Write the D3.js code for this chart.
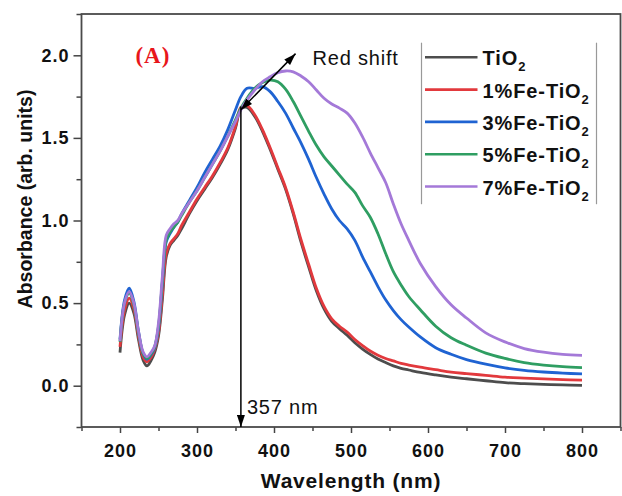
<!DOCTYPE html>
<html>
<head>
<meta charset="utf-8">
<script src="https://cdn.jsdelivr.net/npm/d3@7"></script>
<style>
  body { margin: 0; background: #fff; }
  svg { display: block; font-family: "Liberation Sans", Arial, sans-serif; }
</style>
</head>
<body>
<div id="chart"></div>
<script>
// UV-vis absorbance spectra, shared wavelength grid (nm)
const wavelength = [200, 206, 212, 218, 224, 230, 235,
  240, 245, 250, 255, 260, 265, 270, 275, 280,
  290, 300, 310, 320, 330, 340, 350, 357,
  365, 375, 385, 395, 405, 415, 425, 435, 445, 455, 465, 475, 485, 495, 505, 515, 525, 535, 545, 555, 565, 575,
  590, 610, 630, 650, 675, 700, 725, 750, 775, 800];

const tio2 = [0.20, 0.43, 0.50, 0.44, 0.28, 0.155, 0.12,
  0.15, 0.20, 0.30, 0.52, 0.78, 0.85, 0.88, 0.91, 0.95,
  1.04, 1.12, 1.19, 1.26, 1.34, 1.43, 1.56, 1.675,
  1.685, 1.63, 1.54, 1.43, 1.31, 1.19, 1.04, 0.87, 0.72, 0.575, 0.465, 0.39, 0.345, 0.305, 0.26, 0.222, 0.19, 0.162, 0.14, 0.12, 0.105, 0.095,
  0.08, 0.065, 0.052, 0.042, 0.03, 0.018, 0.012, 0.008, 0.005, 0.002];

const fe1 = [0.235, 0.46, 0.53, 0.465, 0.30, 0.175, 0.145,
  0.17, 0.22, 0.32, 0.55, 0.80, 0.86, 0.89, 0.92, 0.97,
  1.05, 1.13, 1.20, 1.27, 1.35, 1.44, 1.57, 1.685,
  1.695, 1.64, 1.55, 1.44, 1.32, 1.20, 1.05, 0.885, 0.735, 0.59, 0.48, 0.405, 0.36, 0.325, 0.28, 0.243, 0.21, 0.185, 0.165, 0.15, 0.135, 0.125,
  0.112, 0.097, 0.082, 0.073, 0.063, 0.052, 0.046, 0.041, 0.037, 0.034];

const fe3 = [0.28, 0.52, 0.59, 0.51, 0.33, 0.195, 0.16,
  0.185, 0.23, 0.35, 0.62, 0.87, 0.92, 0.96, 0.99, 1.04,
  1.12, 1.20, 1.29, 1.37, 1.45, 1.55, 1.67, 1.75,
  1.80, 1.80, 1.81, 1.78, 1.72, 1.65, 1.56, 1.47, 1.37, 1.26, 1.16, 1.07, 1.00, 0.95, 0.88, 0.78, 0.69, 0.60, 0.52, 0.455, 0.40, 0.355,
  0.295, 0.23, 0.19, 0.158, 0.13, 0.108, 0.093, 0.083, 0.076, 0.071];

const fe5 = [0.265, 0.50, 0.56, 0.49, 0.32, 0.195, 0.165,
  0.19, 0.235, 0.36, 0.63, 0.88, 0.93, 0.96, 0.99, 1.03,
  1.11, 1.18, 1.26, 1.34, 1.42, 1.51, 1.61, 1.68,
  1.74, 1.80, 1.835, 1.85, 1.84, 1.795, 1.72, 1.63, 1.54, 1.455, 1.385, 1.33, 1.275, 1.22, 1.17, 1.09, 1.02, 0.92, 0.80, 0.69, 0.61, 0.54,
  0.46, 0.36, 0.29, 0.245, 0.197, 0.165, 0.14, 0.125, 0.115, 0.109];

const fe7 = [0.27, 0.505, 0.57, 0.50, 0.33, 0.205, 0.175,
  0.20, 0.24, 0.38, 0.66, 0.91, 0.95, 0.98, 1.00, 1.04,
  1.11, 1.18, 1.26, 1.34, 1.42, 1.51, 1.60, 1.67,
  1.73, 1.79, 1.84, 1.87, 1.895, 1.905, 1.90, 1.875, 1.84, 1.79, 1.74, 1.705, 1.68, 1.65, 1.59, 1.506, 1.41, 1.32, 1.23, 1.10, 0.98, 0.88,
  0.74, 0.60, 0.49, 0.41, 0.32, 0.265, 0.225, 0.203, 0.19, 0.184];

const seriesNames = ["TiO2", "1%Fe-TiO2", "3%Fe-TiO2", "5%Fe-TiO2", "7%Fe-TiO2"];
const seriesColors = ["#4d4d4d", "#e2393d", "#1f63d2", "#2f9e62", "#a479d8"];
const seriesValues = [tio2, fe1, fe3, fe5, fe7];

const xTicks = [200, 300, 400, 500, 600, 700, 800];
const xMinorTicks = [150, 250, 350, 450, 550, 650, 750, 850];
const yTicks = [0, 0.5, 1.0, 1.5, 2.0];
const yMinorTicks = [-0.25, 0.25, 0.75, 1.25, 1.75, 2.25];

// annotation anchors (data units)
const peakWave = 357, peakAbs = 1.69;
const shiftFrom = [357, 1.67], shiftTo = [428, 2.01];

const width = 622, height = 496;
const plot = { left: 81.5, right: 620.5, top: 14, bottom: 427 };

const x = d3.scaleLinear().domain([150, 850]).range([plot.left, plot.right]);
const y = d3.scaleLinear().domain([-0.25, 2.25]).range([plot.bottom, plot.top]);

const svg = d3.select("#chart").append("svg")
  .attr("width", width)
  .attr("height", height);

const defs = svg.append("defs");
defs.append("marker")
  .attr("id", "head")
  .attr("markerUnits", "userSpaceOnUse")
  .attr("viewBox", "0 0 12 8")
  .attr("markerWidth", 12)
  .attr("markerHeight", 8)
  .attr("refX", 12)
  .attr("refY", 4)
  .attr("orient", "auto-start-reverse")
  .append("path")
  .attr("d", "M0,0L12,4L0,8Z")
  .attr("fill", "#000");

// axes: major + minor ticks, outward
const tickFont = g => g.selectAll("text")
  .attr("font-size", 18)
  .attr("font-weight", "bold")
  .attr("letter-spacing", 1)
  .attr("fill", "#111");

const xAxisG = svg.append("g").attr("transform", `translate(0,${plot.bottom})`);
xAxisG.append("g")
  .call(d3.axisBottom(x).tickValues(xMinorTicks).tickSize(4).tickFormat(""))
  .call(g => g.select(".domain").remove());
xAxisG.append("g")
  .call(d3.axisBottom(x).tickValues(xTicks).tickSize(6).tickPadding(11).tickFormat(d3.format("d")))
  .call(g => g.select(".domain").remove())
  .call(tickFont);

const yAxisG = svg.append("g").attr("transform", `translate(${plot.left},0)`);
yAxisG.append("g")
  .call(d3.axisLeft(y).tickValues(yMinorTicks).tickSize(5).tickFormat(""))
  .call(g => g.select(".domain").remove());
yAxisG.append("g")
  .call(d3.axisLeft(y).tickValues(yTicks).tickSize(8).tickPadding(4).tickFormat(d3.format(".1f")))
  .call(g => g.select(".domain").remove())
  .call(tickFont);

svg.selectAll(".tick line").attr("stroke", "#444").attr("stroke-width", 1.5);

// plot frame
svg.append("rect")
  .attr("x", plot.left)
  .attr("y", plot.top)
  .attr("width", plot.right - plot.left)
  .attr("height", plot.bottom - plot.top)
  .attr("fill", "none")
  .attr("stroke", "#4a4a4a")
  .attr("stroke-width", 1.8);

// spectra
const line = d3.line()
  .x((d, i) => x(wavelength[i]))
  .y(d => y(d))
  .curve(d3.curveCatmullRom.alpha(0.5));

svg.append("g")
  .selectAll("path")
  .data(seriesValues)
  .join("path")
  .attr("d", d => line(d))
  .attr("fill", "none")
  .attr("stroke", (d, i) => seriesColors[i])
  .attr("stroke-width", 2.8)
  .attr("stroke-linejoin", "round");

// peak marker and red-shift arrow
svg.append("line")
  .attr("x1", x(peakWave)).attr("y1", y(peakAbs))
  .attr("x2", x(peakWave)).attr("y2", y(-0.25))
  .attr("stroke", "#000").attr("stroke-width", 1.5)
  .attr("marker-end", "url(#head)");

svg.append("line")
  .attr("x1", x(shiftFrom[0])).attr("y1", y(shiftFrom[1]))
  .attr("x2", x(shiftTo[0])).attr("y2", y(shiftTo[1]))
  .attr("stroke", "#000").attr("stroke-width", 1.5)
  .attr("marker-start", "url(#head)")
  .attr("marker-end", "url(#head)");

svg.append("text")
  .attr("x", x(peakWave) + 6)
  .attr("y", y(-0.17))
  .attr("font-size", 20)
  .attr("letter-spacing", 0.8)
  .attr("fill", "#111")
  .text(peakWave + " nm");

svg.append("text")
  .attr("x", x(450))
  .attr("y", y(1.94))
  .attr("font-size", 20)
  .attr("letter-spacing", 0.8)
  .attr("fill", "#111")
  .text("Red shift");

svg.append("text")
  .attr("x", x(220))
  .attr("y", y(1.952))
  .attr("font-family", "'Liberation Serif', 'Times New Roman', serif")
  .attr("font-size", 23)
  .attr("font-weight", "bold")
  .attr("letter-spacing", 1)
  .attr("fill", "#e8161b")
  .text("(A)");

// legend
const legend = svg.append("g").attr("transform", "translate(421.5,42.7)");
[0, 175].forEach(lx => legend.append("line")
  .attr("x1", lx).attr("x2", lx).attr("y1", 0).attr("y2", 161.5)
  .attr("stroke", "#999").attr("stroke-width", 1.2));

const rows = legend.selectAll("g.row")
  .data(seriesNames)
  .join("g")
  .attr("class", "row")
  .attr("transform", (d, i) => `translate(0,${14.6 + i * 32.3})`);

rows.append("line")
  .attr("x1", 3.5).attr("x2", 56)
  .attr("stroke", (d, i) => seriesColors[i])
  .attr("stroke-width", 2.6);

const labels = rows.append("text")
  .attr("x", 61)
  .attr("y", 8)
  .attr("font-size", 20)
  .attr("font-weight", "bold")
  .attr("letter-spacing", 0.9)
  .attr("fill", "#111");
labels.append("tspan").text(d => d.slice(0, -1));
labels.append("tspan")
  .attr("font-size", 13)
  .attr("dy", 6)
  .text(d => d.slice(-1));

// axis titles
svg.append("text")
  .attr("x", (plot.left + plot.right) / 2)
  .attr("y", 488)
  .attr("text-anchor", "middle")
  .attr("font-size", 21)
  .attr("font-weight", "bold")
  .attr("letter-spacing", 0.8)
  .attr("fill", "#111")
  .text("Wavelength (nm)");

svg.append("text")
  .attr("transform", "translate(32,199) rotate(-90)")
  .attr("text-anchor", "middle")
  .attr("font-size", 19.5)
  .attr("font-weight", "bold")
  .attr("fill", "#111")
  .text("Absorbance (arb. units)");
</script>
</body>
</html>
